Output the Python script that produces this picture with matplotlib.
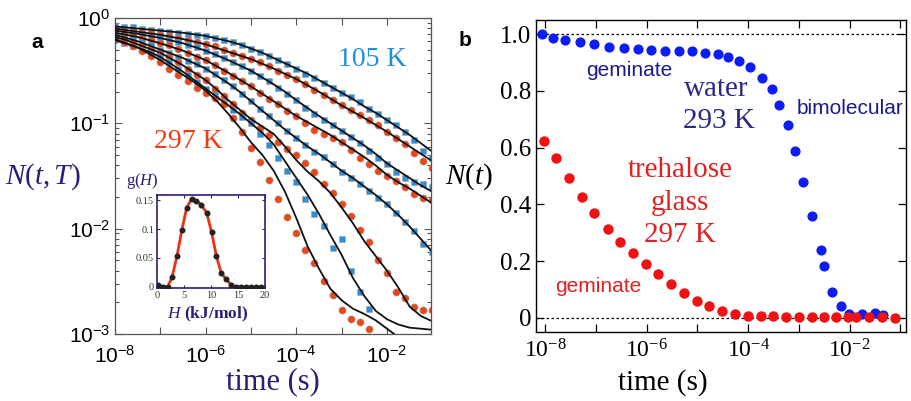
import numpy as np
import matplotlib.pyplot as plt
from matplotlib.ticker import FixedLocator, NullFormatter, LogLocator

plt.rcParams['mathtext.fontset'] = 'custom'
plt.rcParams['mathtext.rm'] = 'Liberation Serif'
plt.rcParams['mathtext.it'] = 'Liberation Serif:italic'
plt.rcParams['mathtext.bf'] = 'Liberation Serif:bold'

SERIF = 'Liberation Serif'
SANS = 'Liberation Sans'

# ---------------- panel a : N(t,T), log10 values ----------------
# marker times: log10(t) from -8 to -1, every 0.2 decade
logt_pts = np.linspace(-8.0, -1.0, 36)
# fit line times: every 0.25 decade
logt_fit = np.linspace(-8.0, -1.0, 29)
nan = float('nan')

# curves from top (105 K, blue) down to 297 K (red), blue/red alternating
c1_pts = [-0.08, -0.085, -0.09, -0.10, -0.11, -0.12, -0.13, -0.14, -0.15, -0.16, -0.17, -0.19,
          -0.21, -0.23, -0.26, -0.29, -0.32, -0.36, -0.40, -0.44, -0.48, -0.53, -0.57, -0.62,
          -0.66, -0.71, -0.75, -0.80, -0.86, -0.91, -0.97, -1.02, -1.08, -1.16, -1.26, -1.33]
c2_pts = [-0.10, -0.11, -0.12, -0.13, -0.145, -0.16, -0.17, -0.19, -0.21, -0.23, -0.25, -0.27,
          -0.30, -0.33, -0.36, -0.39, -0.42, -0.46, -0.50, -0.54, -0.58, -0.63, -0.68, -0.73,
          -0.78, -0.83, -0.87, -0.92, -0.97, -1.02, -1.08, -1.14, -1.20, -1.28, -1.36, -1.42]
c3_pts = [-0.12, -0.13, -0.14, -0.155, -0.17, -0.19, -0.21, -0.23, -0.26, -0.28, -0.31, -0.34,
          -0.38, -0.42, -0.46, -0.50, -0.55, -0.60, -0.66, -0.72, -0.78, -0.85, -0.91, -0.97,
          -1.02, -1.07, -1.13, -1.19, -1.26, -1.33, -1.39, -1.46, -1.52, -1.56, -1.58, -1.60]
c4_pts = [-0.14, -0.155, -0.17, -0.19, -0.21, -0.24, -0.26, -0.29, -0.33, -0.37, -0.40, -0.45,
          -0.50, -0.55, -0.60, -0.65, -0.71, -0.77, -0.82, -0.88, -0.93, -1.00, -1.06, -1.10,
          -1.14, -1.18, -1.25, -1.33, -1.39, -1.45, -1.50, -1.55, -1.60, -1.67, -1.71, -1.73]
c5_pts = [-0.16, -0.18, -0.20, -0.23, -0.26, -0.30, -0.33, -0.37, -0.41, -0.44, -0.48, -0.53,
          -0.59, -0.65, -0.72, -0.79, -0.86, -0.93, -1.00, -1.07, -1.14, -1.21, -1.27, -1.32,
          -1.39, -1.46, -1.52, -1.58, -1.64, -1.71, -1.77, -1.85, -1.94, -2.02, -2.15, -2.22]
c6_pts = [-0.18, -0.20, -0.23, -0.26, -0.29, -0.33, -0.37, -0.42, -0.48, -0.54, -0.59, -0.67,
          -0.74, -0.82, -0.90, -0.97, -1.04, -1.11, -1.18, -1.24, -1.30, -1.38, -1.46, -1.58,
          -1.66, -1.77, -1.88, -2.01, -2.13, -2.30, -2.42, -2.60, -2.66, -2.74, -2.77, -2.77]
c7_pts = [-0.21, -0.24, -0.27, -0.30, -0.33, -0.37, -0.42, -0.48, -0.54, -0.61, -0.67, -0.73,
          -0.80, -0.87, -0.94, -1.00, -1.10, -1.21, -1.33, -1.45, -1.56, -1.72, -1.86, -1.97,
          -2.18, -2.10, -2.40, -2.60, -2.76, nan, nan, nan, nan, nan, nan, nan]
c8_pts = [-0.20, -0.23, -0.27, -0.31, -0.36, -0.42, -0.48, -0.54, -0.60, -0.66, -0.71, -0.76,
          -0.82, -0.95, -1.08, -1.23, -1.37, -1.54, -1.72, -1.89, -2.04, -2.20, -2.33, -2.50,
          -2.63, -2.77, -2.86, -2.89, -2.95, nan, nan, nan, nan, nan, nan, nan]

c1_fit = [-0.08, -0.09, -0.10, -0.11, -0.12, -0.13, -0.14, -0.155, -0.17, -0.195, -0.22, -0.25,
          -0.29, -0.33, -0.38, -0.43, -0.48, -0.53, -0.59, -0.65, -0.71, -0.77, -0.84, -0.90,
          -0.97, -1.04, -1.11, -1.19, -1.27]
c2_fit = [-0.10, -0.115, -0.13, -0.145, -0.16, -0.18, -0.20, -0.225, -0.25, -0.285, -0.32, -0.355,
          -0.39, -0.435, -0.48, -0.53, -0.58, -0.64, -0.70, -0.765, -0.83, -0.89, -0.95, -1.015,
          -1.08, -1.15, -1.22, -1.29, -1.36]
c3_fit = [-0.12, -0.135, -0.15, -0.17, -0.19, -0.215, -0.24, -0.275, -0.31, -0.355, -0.40, -0.45,
          -0.50, -0.565, -0.63, -0.70, -0.78, -0.855, -0.93, -1.00, -1.07, -1.14, -1.21, -1.29,
          -1.38, -1.45, -1.52, -1.59, -1.65]
c4_fit = [-0.14, -0.16, -0.18, -0.21, -0.24, -0.275, -0.31, -0.355, -0.40, -0.46, -0.52, -0.585,
          -0.65, -0.72, -0.79, -0.86, -0.93, -0.99, -1.05, -1.11, -1.18, -1.25, -1.32, -1.40,
          -1.49, -1.56, -1.62, -1.69, -1.76]
c5_fit = [-0.16, -0.19, -0.22, -0.26, -0.30, -0.34, -0.38, -0.43, -0.48, -0.55, -0.62, -0.70,
          -0.79, -0.88, -0.97, -1.06, -1.14, -1.22, -1.29, -1.37, -1.45, -1.52, -1.60, -1.68,
          -1.77, -1.87, -1.98, -2.10, -2.22]
c6_fit = [-0.18, -0.21, -0.25, -0.29, -0.33, -0.39, -0.45, -0.52, -0.59, -0.68, -0.78, -0.87,
          -0.96, -1.03, -1.10, -1.22, -1.35, -1.46, -1.55, -1.66, -1.80, -1.95, -2.12, -2.26,
          -2.40, -2.56, -2.74, -2.83, -2.88]
c7_fit = [-0.21, -0.245, -0.28, -0.32, -0.37, -0.44, -0.51, -0.59, -0.67, -0.75, -0.83, -0.91,
          -1.00, -1.09, -1.20, -1.36, -1.52, -1.68, -1.86, -2.06, -2.25, -2.47, -2.64, -2.78,
          -2.86, -2.91, -2.94, -2.95, -2.96]
c8_fit = [-0.20, -0.24, -0.28, -0.34, -0.40, -0.47, -0.54, -0.61, -0.69, -0.79, -0.91, -1.04,
          -1.18, -1.30, -1.45, -1.65, -1.90, -2.17, -2.38, -2.57, -2.68, -2.76, -2.81, -2.87,
          -2.95, -3.03, -3.10, -3.15, -3.20]

curves_pts = [c1_pts, c2_pts, c3_pts, c4_pts, c5_pts, c6_pts, c7_pts, c8_pts]
curves_fit = [c1_fit, c2_fit, c3_fit, c4_fit, c5_fit, c6_fit, c7_fit, c8_fit]

# inset g(H)
H_vals = [0.2, 1.1, 2.0, 2.8, 3.7, 4.6, 5.5, 6.4, 7.3, 8.2, 9.2, 10.1, 11.0, 11.9, 12.8,
          13.7, 14.6, 15.5, 16.5, 17.4, 18.3, 19.2]
g_vals = [0.004, 0.0, 0.0, 0.017, 0.053, 0.098, 0.137, 0.152, 0.149, 0.142, 0.128, 0.095,
          0.053, 0.024, 0.013, 0.004, 0.0, 0.0, 0.0, 0.0, 0.0, 0.0]

# ---------------- panel b : N(t) ----------------
water_logt = [-8.06, -7.85, -7.61, -7.31, -7.04, -6.74, -6.44, -6.18, -5.91, -5.64, -5.36, -5.10,
              -4.85, -4.60, -4.40, -4.19, -3.96, -3.72, -3.54, -3.39, -3.22, -3.08, -2.92, -2.74,
              -2.57, -2.50, -2.34, -2.18, -2.01, -1.76, -1.50, -1.34]
water_N = [1.0, 0.987, 0.979, 0.971, 0.965, 0.955, 0.95, 0.946, 0.944, 0.94, 0.94, 0.94,
           0.934, 0.93, 0.92, 0.906, 0.883, 0.844, 0.805, 0.75, 0.68, 0.589, 0.48, 0.359,
           0.239, 0.181, 0.09, 0.042, 0.014, 0.014, 0.016, 0.01]
treh_logt = [-8.03, -7.78, -7.53, -7.28, -7.03, -6.77, -6.52, -6.27, -6.02, -5.77, -5.52, -5.26,
             -5.01, -4.77, -4.51, -4.26, -4.01, -3.75, -3.51, -3.26, -3.00, -2.75, -2.50, -2.26,
             -2.03, -1.87, -1.62, -1.37, -1.11]
treh_N = [0.624, 0.562, 0.492, 0.427, 0.369, 0.312, 0.266, 0.228, 0.19, 0.155, 0.12, 0.089,
          0.06, 0.04, 0.025, 0.014, 0.008, 0.007, 0.005, 0.002, 0.002, 0.002, 0.002, 0.002,
          0.002, 0.002, 0.002, 0.002, 0.0]

blue_a = '#2a90dc'
red_a = '#f04614'
purple = '#2e1c78'

fig = plt.figure(figsize=(9.11, 4.01), dpi=100)

# ---- panel a
ax1 = fig.add_axes([0.1262, 0.1671, 0.3469, 0.7880])
for i in range(len(curves_pts)):
    if i % 2 == 0:
        col, mk, ms = blue_a, 's', 4.8
    else:
        col, mk, ms = red_a, 'o', 5.2
    ax1.plot(10 ** logt_pts, 10 ** np.array(curves_pts[i]), ls='none', marker=mk, ms=ms,
             mfc=col, mec='#a0a0a0', mew=0.4, zorder=2)
    ax1.plot(10 ** logt_fit, 10 ** np.array(curves_fit[i]), color='#111111', lw=1.3, zorder=3)

ax1.set_xscale('log')
ax1.set_yscale('log')
ax1.set_xlim(1e-8, 10 ** -1.03)
ax1.set_ylim(1e-3, 1.0)
ax1.xaxis.set_major_locator(FixedLocator([1e-8, 1e-6, 1e-4, 1e-2]))
ax1.xaxis.set_minor_locator(FixedLocator([1e-7, 1e-5, 1e-3, 1e-1]))
ax1.xaxis.set_minor_formatter(NullFormatter())
ax1.set_xticklabels([r'$\mathregular{10^{-8}}$', r'$\mathregular{10^{-6}}$',
                     r'$\mathregular{10^{-4}}$', r'$\mathregular{10^{-2}}$'],
                    fontfamily=SANS, fontsize=15)
ax1.yaxis.set_major_locator(FixedLocator([1e-3, 1e-2, 1e-1, 1e0]))
ax1.yaxis.set_minor_locator(LogLocator(base=10, subs=range(2, 10)))
ax1.yaxis.set_minor_formatter(NullFormatter())
ax1.set_yticklabels([r'$\mathregular{10^{-3}}$', r'$\mathregular{10^{-2}}$',
                     r'$\mathregular{10^{-1}}$', r'$\mathregular{10^{0}}$'],
                    fontfamily=SANS, fontsize=15)
ax1.tick_params(which='both', direction='in', top=True, right=True, color='#555555', width=0.8)
ax1.tick_params(which='major', length=5)
ax1.tick_params(axis='x', which='both', length=5, pad=8)
ax1.tick_params(axis='y', which='minor', length=3)
for s in ax1.spines.values():
    s.set_color('#555555')
    s.set_linewidth(0.9)

fig.text(372 / 911, 1 - 60 / 401, '105 K', color='#1e8ee0', fontfamily=SERIF, fontsize=20,
         ha='center', va='center')
fig.text(188 / 911, 1 - 141 / 401, '297 K', color='#f03c10', fontfamily=SERIF, fontsize=20,
         ha='center', va='center')
fig.text(43 / 911, 1 - 177 / 401, r'$N(t,T)$', color=purple, fontsize=21, ha='center', va='center')
fig.text(273 / 911, 1 - 382 / 401, 'time (s)', color=purple, fontfamily=SERIF, fontsize=22,
         ha='center', va='center')
fig.text(37 / 911, 1 - 42 / 401, 'a', fontfamily=SANS, fontweight='bold', fontsize=15,
         ha='center', va='center')

# ---- inset
axi = fig.add_axes([0.1723, 0.2818, 0.1186, 0.2319])
axi.plot(H_vals, g_vals, color='#f03010', lw=2.0, zorder=2)
axi.plot(H_vals, g_vals, ls='none', marker='o', ms=3.3, color='#222222', zorder=3)
axi.set_xlim(0, 20)
axi.set_ylim(-0.002, 0.159)
axi.set_xticks([0, 5, 10, 15, 20])
axi.set_xticklabels(['0', '5', '10', '15', '20'], fontfamily=SERIF, fontsize=7.5, color='#333333')
axi.set_yticks([0, 0.05, 0.1, 0.15])
axi.set_yticklabels(['0', '0.05', '0.1', '0.15'], fontfamily=SERIF, fontsize=7.5, color='#333333')
axi.tick_params(direction='in', length=2.5, top=True, right=True, pad=2, color=purple)
for s in axi.spines.values():
    s.set_color(purple)
    s.set_linewidth(1.2)
fig.text(142 / 911, 1 - 181 / 401, r'g($H$)', color=purple, fontfamily=SERIF, fontsize=12,
         ha='center', va='center')
fig.text(208 / 911, 1 - 314 / 401, r'$H$ (kJ/mol)', color=purple, fontfamily=SERIF, fontsize=12.5,
         fontweight='bold', ha='center', va='center')

# ---- panel b
ax2 = fig.add_axes([0.5884, 0.1721, 0.4061, 0.7781])
ax2.axhline(1.0, color='black', ls=(0, (2, 2)), lw=0.9, zorder=1)
ax2.axhline(0.0, color='black', ls=(0, (2, 2)), lw=0.9, zorder=1)
ax2.plot(10 ** np.array(water_logt), water_N, ls='none', marker='o', ms=6.3,
         mfc='#0c1cf2', mec='#0c1cf2', zorder=3)
ax2.plot(10 ** np.array(treh_logt), treh_N, ls='none', marker='o', ms=6.5,
         mfc='#ee1212', mec='#ee1212', zorder=3)
ax2.set_xscale('log')
ax2.set_xlim(10 ** -8.18, 10 ** -0.89)
ax2.set_ylim(-0.05, 1.05)
ax2.xaxis.set_major_locator(FixedLocator([1e-8, 1e-6, 1e-4, 1e-2]))
ax2.xaxis.set_minor_locator(FixedLocator([1e-7, 1e-5, 1e-3, 1e-1]))
ax2.xaxis.set_minor_formatter(NullFormatter())
ax2.set_xticklabels([r'$\mathregular{10^{-8}}$', r'$\mathregular{10^{-6}}$',
                     r'$\mathregular{10^{-4}}$', r'$\mathregular{10^{-2}}$'],
                    fontfamily=SERIF, fontsize=17)
ax2.set_yticks([0, 0.2, 0.4, 0.6, 0.8, 1.0])
ax2.set_yticklabels(['0', '0.2', '0.4', '0.6', '0.8', '1.0'], fontfamily=SERIF, fontsize=18)
ax2.tick_params(which='both', direction='in', top=True, right=True, length=6, width=0.9)
ax2.tick_params(axis='x', which='both', pad=5)
for s in ax2.spines.values():
    s.set_linewidth(1.0)

fig.text(629 / 911, 1 - 70 / 401, 'geminate', color='#1a1a8c', fontfamily=SANS, fontsize=15,
         ha='center', va='center')
fig.text(716 / 911, 1 - 89 / 401, 'water', color='#2a2a88', fontfamily=SERIF, fontsize=21,
         ha='center', va='center')
fig.text(719 / 911, 1 - 121 / 401, '293 K', color='#2a2a88', fontfamily=SERIF, fontsize=21,
         ha='center', va='center')
fig.text(850 / 911, 1 - 108 / 401, 'bimolecular', color='#1a1a8c', fontfamily=SANS, fontsize=15,
         ha='center', va='center')
fig.text(680 / 911, 1 - 170 / 401, 'trehalose', color='#e02222', fontfamily=SERIF, fontsize=21,
         ha='center', va='center')
fig.text(680 / 911, 1 - 203 / 401, 'glass', color='#e02222', fontfamily=SERIF, fontsize=21,
         ha='center', va='center')
fig.text(680 / 911, 1 - 235 / 401, '297 K', color='#e02222', fontfamily=SERIF, fontsize=21,
         ha='center', va='center')
fig.text(598 / 911, 1 - 287 / 401, 'geminate', color='#e02222', fontfamily=SANS, fontsize=15,
         ha='center', va='center')
fig.text(469 / 911, 1 - 177 / 401, r'$N(t)$', color='black', fontsize=21, ha='center', va='center')
fig.text(663 / 911, 1 - 383 / 401, 'time (s)', color='black', fontfamily=SERIF, fontsize=21,
         ha='center', va='center')
fig.text(465 / 911, 1 - 40 / 401, 'b', fontfamily=SANS, fontweight='bold', fontsize=15,
         ha='center', va='center')

fig.savefig('out.png', dpi=100)
